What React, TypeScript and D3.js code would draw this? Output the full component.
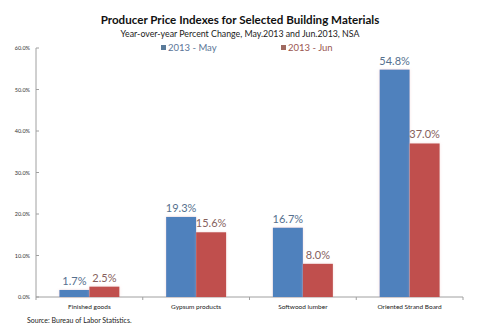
import React from "react";
import * as d3 from "d3";

const categories = ["Finished goods", "Gypsum products", "Softwood lumber", "Oriented Strand Board"];
const may2013 = [1.7, 19.3, 16.7, 54.8];
const jun2013 = [2.5, 15.6, 8.0, 37.0];
const yTicks = [0, 10, 20, 30, 40, 50, 60];
const seriesNames = ["2013 - May", "2013 - Jun"];

const FONT = "Lato, 'Open Sans', sans-serif";

export default function App() {
  const W = 480, H = 335;
  const x0 = 36, x1 = 463, yTop = 48, yBot = 297;
  const x = d3.scaleBand<string>().domain(categories).range([x0, x1]).paddingInner(0).paddingOuter(0);
  const y = d3.scaleLinear().domain([0, 60]).range([yBot, yTop]);
  const bw = 30;
  const series = [
    { vals: may2013, color: "#4f81bd", label: "#56708e", off: -bw },
    { vals: jun2013, color: "#c0504d", label: "#86615d", off: 0 },
  ];
  const bounds = categories.map((c) => x(c)!).concat([x1]);
  return (
    <svg width={W} height={H} style={{ position: "absolute", left: 0, top: 0 }} fontFamily={FONT}>
      <defs>
        <filter id="glow" x="-20%" y="-20%" width="140%" height="140%">
          <feGaussianBlur in="SourceAlpha" stdDeviation="1.5" result="b" />
          <feFlood floodColor="#e8b0b0" floodOpacity="0.4" />
          <feComposite in2="b" operator="in" result="s" />
          <feMerge><feMergeNode in="s" /><feMergeNode in="SourceGraphic" /></feMerge>
        </filter>
      </defs>
      <rect width={W} height={H} fill="#fff" />
      <text x={240} y={24} textAnchor="middle" fontSize={11.6} fontWeight="bold" fill="#111">
        Producer Price Indexes for Selected Building Materials
      </text>
      <text x={240} y={37} textAnchor="middle" fontSize={8.8} fill="#222">
        Year-over-year Percent Change, May.2013 and Jun.2013, NSA
      </text>
      {seriesNames.map((n, i) => (
        <g key={n}>
          <rect x={i === 0 ? 161 : 281} y={45} width={5} height={5} fill={i === 0 ? "#5a7a99" : "#a06a60"} />
          <text x={i === 0 ? 168 : 288} y={51} fontSize={9.5} fill={i === 0 ? "#5a7597" : "#9a5650"}>{n}</text>
        </g>
      ))}
      {/* y axis */}
      <line x1={x0} x2={x0} y1={yTop} y2={yBot} stroke="#a0a0a0" />
      {yTicks.map((t) => (
        <g key={t}>
          <line x1={x0} x2={x0 + 3} y1={y(t)} y2={y(t)} stroke="#a0a0a0" />
          <text x={30} y={y(t) + 2} textAnchor="end" fontSize={5.5} fill="#333">{t.toFixed(1) + "%"}</text>
        </g>
      ))}
      {/* x axis */}
      <line x1={x0} x2={x1} y1={yBot} y2={yBot} stroke="#a0a0a0" />
      {bounds.map((b, i) => (
        <line key={i} x1={b} x2={b} y1={yBot} y2={yBot + 3} stroke="#a0a0a0" />
      ))}
      {categories.map((c, ci) => {
        const cx = x(c)! + x.bandwidth() / 2;
        return (
          <g key={c}>
            {series.map((s, si) => (
              <g key={si}>
                <rect x={cx + s.off} y={y(s.vals[ci])} width={bw} height={yBot - y(s.vals[ci])} fill={s.color} filter="url(#glow)" />
                <text x={cx + s.off + bw / 2} y={y(s.vals[ci]) - 5} textAnchor="middle" fontSize={11} fill={s.label}>
                  {s.vals[ci].toFixed(1) + "%"}
                </text>
              </g>
            ))}
            <text x={cx} y={309} textAnchor="middle" fontSize={6.5} fill="#222">{c}</text>
          </g>
        );
      })}
      <text x={27} y={323} fontSize={7} fill="#222">Source: Bureau of Labor Statistics.</text>
    </svg>
  );
}
